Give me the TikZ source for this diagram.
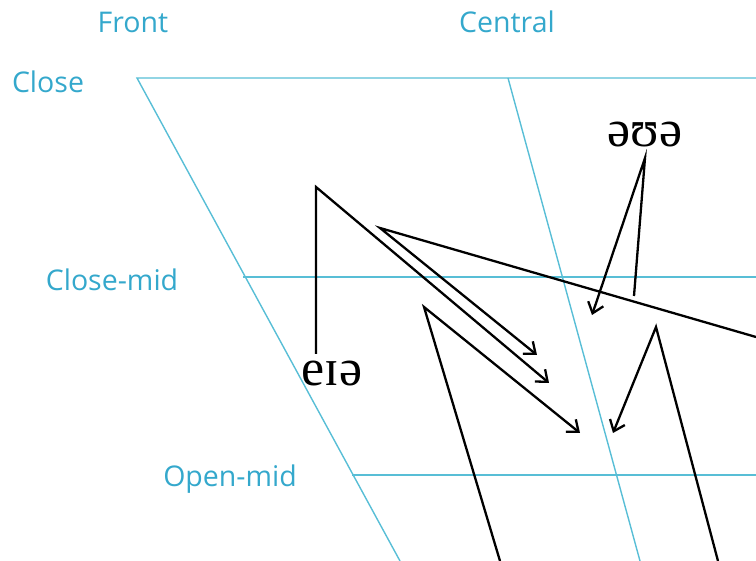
\documentclass[tikz,border=0pt]{standalone}
\usepackage{fontspec}
\setmainfont{Open Sans}
\newfontfamily\ipafont{Liberation Serif}
\usetikzlibrary{arrows.meta}
\definecolor{charttext}{RGB}{52,168,204}
\definecolor{chartline}{RGB}{88,190,214}
\begin{document}
\begin{tikzpicture}[x=1pt,y=-1pt,
  grid/.style={draw=chartline,line width=1.4pt},
  lbl/.style={text=charttext,font=\fontsize{28.5}{32}\selectfont,inner sep=0pt},
  ipa/.style={font=\ipafont\fontsize{52}{56}\selectfont,inner sep=0pt},
  glide/.style={draw=black,line width=2.3pt,line join=miter},
  arr/.style={glide,-{Straight Barb[length=10pt,width=16pt,line width=2.3pt]}}]
\useasboundingbox (0,0) rectangle (756,561);
% grid
\coordinate (c1) at (137,78);
\coordinate (c2) at (756,78);
\coordinate (cm1) at (243,277);
\coordinate (cm2) at (756,277);
\coordinate (om1) at (352,475);
\coordinate (om2) at (756,475);
\coordinate (fb) at (400,561);
\coordinate (ct) at (508,78);
\coordinate (cb) at (640,561);
\draw[grid] (c2) -- (c1) -- (fb);
\draw[grid] (cm1) -- (cm2);
\draw[grid] (om1) -- (om2);
\draw[grid] (ct) -- (cb);
% labels
\node[lbl] (front) at (133,22) {Front};
\node[lbl] (central) at (507,22) {Central};
\node[lbl] (close) at (48,82) {Close};
\node[lbl] (closemid) at (112,280) {Close-mid};
\node[lbl] (openmid) at (230,479) {Open-mid};
% IPA labels
\node[ipa] (eia) at (332,374) {eɪə};
\node[ipa] (oua) at (645,135) {əʊə};
% glides
\coordinate (a1) at (316,354);
\coordinate (a2) at (316,187);
\coordinate (a3) at (549,383);
\draw[arr] (a1) -- (a2) -- (a3);
\coordinate (b1) at (380,228);
\coordinate (b2) at (537,355);
\coordinate (b3) at (756,337);
\draw[arr] (b3) -- (b1) -- (b2);
\coordinate (d1) at (500,561);
\coordinate (d2) at (424,307);
\coordinate (d3) at (580,433);
\draw[arr] (d1) -- (d2) -- (d3);
\coordinate (e1) at (634,296);
\coordinate (e2) at (645,158);
\coordinate (e3) at (592,315);
\draw[arr] (e1) -- (e2) -- (e3);
\coordinate (f1) at (718,561);
\coordinate (f2) at (656,327);
\coordinate (f3) at (613,433);
\draw[arr] (f1) -- (f2) -- (f3);
\end{tikzpicture}
\end{document}
